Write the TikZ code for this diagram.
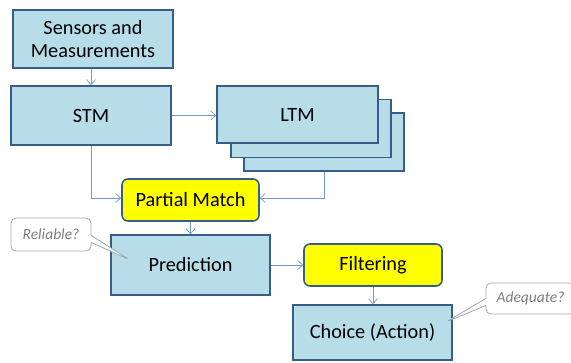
\documentclass[tikz,border=0pt]{standalone}
\usepackage{fontspec}
\setmainfont{Carlito}
\usetikzlibrary{arrows.meta,shapes.callouts}
\definecolor{boxfill}{HTML}{B7DDE8}
\definecolor{boxline}{HTML}{385D8A}
\definecolor{arrcol}{HTML}{6F9BD0}
\definecolor{yel}{HTML}{FFFF00}
\definecolor{calline}{HTML}{9FA8B4}
\definecolor{caltext}{HTML}{7F7F7F}
\tikzset{
  box/.style={draw=boxline, line width=1.6pt, fill=boxfill, inner sep=0pt, align=center, font=\fontsize{20.3}{23.5}\selectfont, text=black},
  ybox/.style={box, fill=yel, rounded corners=6pt},
  arr/.style={draw=arrcol, line width=0.7pt, -{Straight Barb[length=5pt,width=9pt]}},
  call/.style={rectangle callout, draw=calline, line width=0.8pt, fill=white, rounded corners=5pt, inner sep=0pt, font=\fontsize{15.5}{18}\selectfont\itshape, text=caltext}
}
\begin{document}
\begin{tikzpicture}[x=1pt,y=-1pt]
\useasboundingbox (0,0) rectangle (571,362);
\clip (0,0) rectangle (571,362);
\node[box, minimum width=160pt, minimum height=58pt] (sen) at (93,39) {Sensors and\\Measurements};
\node[box, minimum width=160pt, minimum height=59pt] (stm) at (91,115.5) {STM};
\node[box, minimum width=160pt, minimum height=58pt] (ltm3) at (324,142) {};
\node[box, minimum width=160pt, minimum height=58pt] (ltm2) at (311,128.5) {};
\node[box, minimum width=161pt, minimum height=57pt] (ltm) at (297.5,114.5) {LTM};
\node[ybox, minimum width=137pt, minimum height=42pt] (pm) at (190.5,200) {Partial Match};
\node[box, minimum width=159pt, minimum height=60pt] (pred) at (190.5,265) {Prediction};
\node[ybox, minimum width=138pt, minimum height=42pt] (filt) at (373,265) {Filtering};
\node[box, minimum width=159pt, minimum height=55pt] (cho) at (372.5,332.5) {Choice (Action)};
\coordinate (rtip) at (130,260);
\coordinate (atip) at (446,322);
\node[call, minimum width=80pt, minimum height=33pt, callout absolute pointer={(rtip)}] (rel) at (51,234.5) {Reliable?};
\node[call, minimum width=89pt, minimum height=31pt, callout absolute pointer={(atip)}] (adq) at (530.5,298.5) {Adequate?};
\draw[arr] (sen.south -| stm.north) -- (stm.north);
\draw[arr] (stm.east) -- (ltm.west |- stm.east);
\draw[arr] (stm.south) |- ([yshift=2pt]pm.west);
\draw[arr] (ltm3.south) |- ([yshift=2pt]pm.east);
\draw[arr] (pm.south) -- (pred.north);
\draw[arr] (pred.east) -- (filt.west);
\draw[arr] (filt.south) -- (filt.south |- cho.north);
\end{tikzpicture}
\end{document}
